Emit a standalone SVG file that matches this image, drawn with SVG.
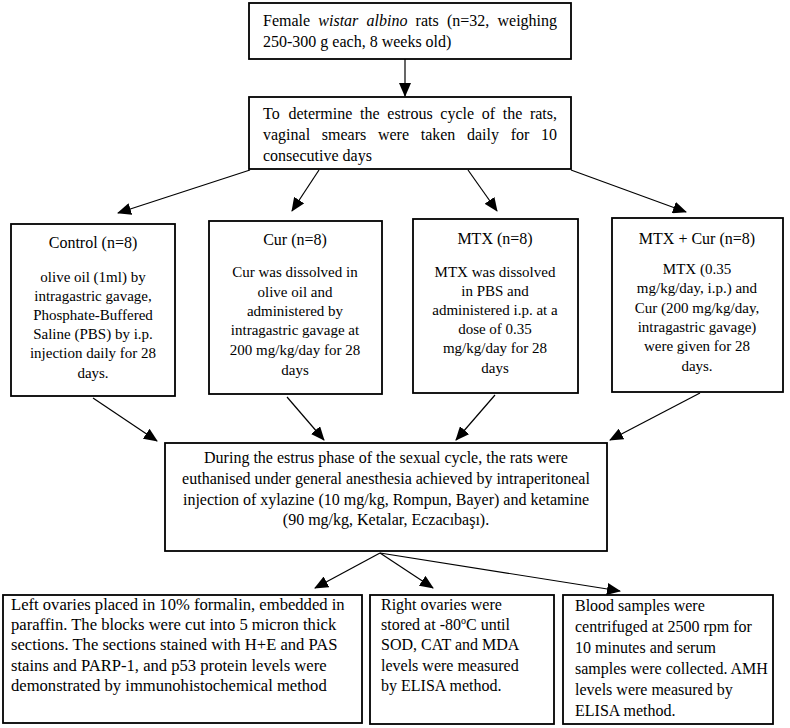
<svg xmlns="http://www.w3.org/2000/svg" width="790" height="728" viewBox="0 0 790 728">
<style>
.box{fill:#fff;stroke:#000;stroke-width:1.8}
text{font-family:"Liberation Serif","Times New Roman",serif;fill:#000}
.t16{font-size:16px}
.t15{font-size:15px}
.t165{font-size:16.6px}
.c{text-anchor:middle}
.conn line{stroke:#000;stroke-width:1.2}
</style>
<defs>
<marker id="ah" markerUnits="userSpaceOnUse" markerWidth="14" markerHeight="12" refX="13" refY="6" orient="auto">
<path d="M0,0 L14,6 L0,12 z" fill="#000"/>
</marker>
</defs>
<rect width="790" height="728" fill="#fff"/>
<g id="n_rats">
<rect class="box" x="249" y="3" width="322" height="56"/>
<text class="t16" y="26"><tspan x="263">Female</tspan><tspan x="318.3" font-style="italic">wistar</tspan><tspan x="366.5" font-style="italic">albino</tspan><tspan x="415.6">rats</tspan><tspan x="446.9">(n=32,</tspan><tspan x="497.5">weighing</tspan></text>
<text class="t16" x="263" y="47">250-300 g each, 8 weeks old)</text>
</g>
<g id="n_estrous">
<rect class="box" x="249" y="97" width="322" height="72"/>
<text class="t16" y="119"><tspan x="263">To</tspan><tspan x="288.4">determine</tspan><tspan x="360.1">the</tspan><tspan x="387.3">estrous</tspan><tspan x="440.3">cycle</tspan><tspan x="481.7">of</tspan><tspan x="502.7">the</tspan><tspan x="529.9">rats,</tspan></text>
<text class="t16" y="140"><tspan x="263">vaginal</tspan><tspan x="321.8">smears</tspan><tspan x="377.9">were</tspan><tspan x="420.7">taken</tspan><tspan x="467">daily</tspan><tspan x="510.7">for</tspan><tspan x="541">10</tspan></text>
<text class="t16" x="263" y="161">consecutive days</text>
</g>
<g id="n_control">
<rect class="box" x="11" y="224" width="164" height="172"/>
<text class="t16 c" x="93" y="248">Control (n=8)</text>
<text class="t15 c" x="93" y="282">olive oil (1ml) by</text>
<text class="t15 c" x="93" y="301">intragastric gavage,</text>
<text class="t15 c" x="93" y="320">Phosphate-Buffered</text>
<text class="t15 c" x="93" y="339">Saline (PBS) by i.p.</text>
<text class="t15 c" x="93" y="358">injection daily for 28</text>
<text class="t15 c" x="93" y="378">days.</text>
</g>
<g id="n_cur">
<rect class="box" x="209" y="221" width="173" height="173"/>
<text class="t16 c" x="295" y="245">Cur (n=8)</text>
<text class="t15 c" x="295" y="277">Cur was dissolved in</text>
<text class="t15 c" x="295" y="297">olive oil and</text>
<text class="t15 c" x="295" y="316">administered by</text>
<text class="t15 c" x="295" y="335">intragastric gavage at</text>
<text class="t15 c" x="295" y="355">200 mg/kg/day for 28</text>
<text class="t15 c" x="295" y="375">days</text>
</g>
<g id="n_mtx">
<rect class="box" x="413" y="219" width="165" height="174"/>
<text class="t16 c" x="495" y="244">MTX (n=8)</text>
<text class="t15 c" x="495" y="277">MTX was dissolved</text>
<text class="t15 c" x="495" y="296">in PBS and</text>
<text class="t15 c" x="495" y="315">administered i.p. at a</text>
<text class="t15 c" x="495" y="334">dose of 0.35</text>
<text class="t15 c" x="495" y="353">mg/kg/day for 28</text>
<text class="t15 c" x="495" y="373">days</text>
</g>
<g id="n_mtxcur">
<rect class="box" x="612" y="218" width="171" height="174"/>
<text class="t16 c" x="697" y="244">MTX + Cur (n=8)</text>
<text class="t15 c" x="697" y="274">MTX (0.35</text>
<text class="t15 c" x="697" y="293">mg/kg/day, i.p.) and</text>
<text class="t15 c" x="697" y="313">Cur (200 mg/kg/day,</text>
<text class="t15 c" x="697" y="332">intragastric gavage)</text>
<text class="t15 c" x="697" y="351">were given  for 28</text>
<text class="t15 c" x="697" y="371">days.</text>
</g>
<g id="n_euth">
<rect class="box" x="165" y="443" width="442" height="108"/>
<text class="t16 c" x="386" y="463">During the estrus phase of the sexual cycle, the rats were</text>
<text class="t16 c" x="386" y="484">euthanised under general anesthesia achieved by intraperitoneal</text>
<text class="t16 c" x="386" y="505">injection of xylazine (10 mg/kg, Rompun, Bayer) and ketamine</text>
<text class="t16 c" x="386" y="525">(90 mg/kg, Ketalar, Eczacıbaşı).</text>
</g>
<g id="n_left">
<rect class="box" x="3" y="595" width="359" height="128"/>
<text class="t165" x="11" y="610">Left ovaries placed in 10% formalin, embedded in</text>
<text class="t165" x="11" y="630">paraffin. The blocks were cut into 5 micron thick</text>
<text class="t165" x="11" y="650">sections. The sections stained with H+E and PAS</text>
<text class="t165" x="11" y="671">stains and PARP-1, and p53 protein levels were</text>
<text class="t165" x="11" y="691">demonstrated by immunohistochemical method</text>
</g>
<g id="n_right">
<rect class="box" x="370" y="595" width="184" height="129"/>
<text class="t16" x="381" y="610">Right ovaries were</text>
<text class="t16" x="381" y="630">stored at -80<tspan font-size="10" dy="-6">o</tspan><tspan dy="6">C until</tspan></text>
<text class="t16" x="381" y="650">SOD, CAT and MDA</text>
<text class="t16" x="381" y="671">levels were measured</text>
<text class="t16" x="381" y="691">by ELISA method.</text>
</g>
<g id="n_blood">
<rect class="box" x="563" y="595" width="210" height="129"/>
<text class="t16" x="575" y="611">Blood samples were</text>
<text class="t16" x="575" y="632">centrifuged at 2500 rpm for</text>
<text class="t16" x="575" y="653">10 minutes and serum</text>
<text class="t16" x="575" y="674">samples were collected. AMH</text>
<text class="t16" x="575" y="695">levels were measured by</text>
<text class="t16" x="575" y="716">ELISA method.</text>
</g>
<g id="connectors" class="conn">
<line x1="405" y1="59" x2="405" y2="96" marker-end="url(#ah)"/>
<line x1="250" y1="170" x2="118" y2="213" marker-end="url(#ah)"/>
<line x1="319" y1="170" x2="292" y2="211" marker-end="url(#ah)"/>
<line x1="468" y1="170" x2="497" y2="211" marker-end="url(#ah)"/>
<line x1="571" y1="170" x2="686" y2="212" marker-end="url(#ah)"/>
<line x1="93" y1="398" x2="157" y2="441" marker-end="url(#ah)"/>
<line x1="287" y1="397" x2="324" y2="440" marker-end="url(#ah)"/>
<line x1="495" y1="395" x2="456" y2="440" marker-end="url(#ah)"/>
<line x1="700" y1="393" x2="610" y2="440" marker-end="url(#ah)"/>
<line x1="380" y1="553" x2="315" y2="588" marker-end="url(#ah)"/>
<line x1="380" y1="553" x2="433" y2="588" marker-end="url(#ah)"/>
<line x1="380" y1="553" x2="620" y2="591" marker-end="url(#ah)"/>
</g>
</svg>
